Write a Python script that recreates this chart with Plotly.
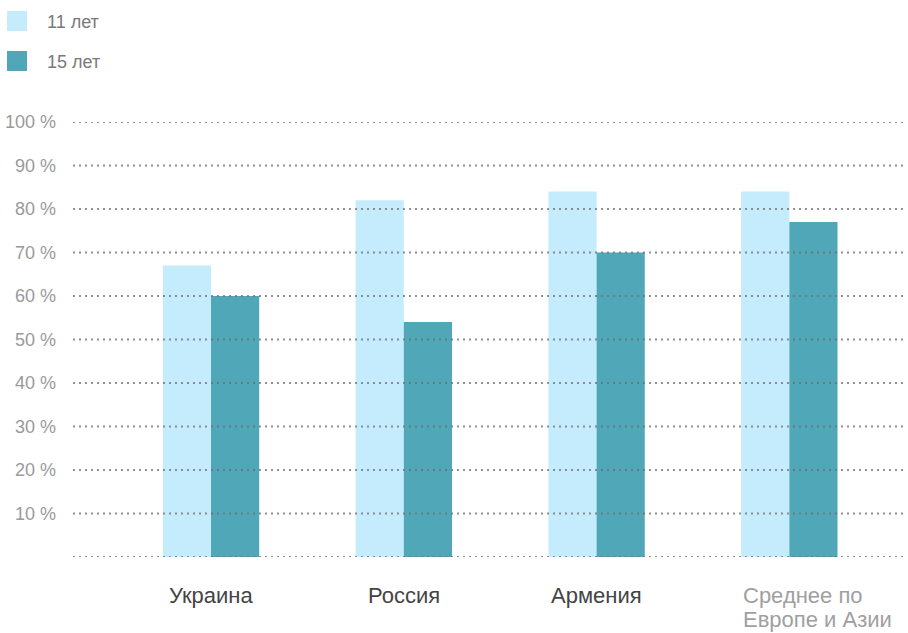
import plotly.graph_objects as go

categories = ["Украина", "Россия", "Армения", "Среднее по<br>Европе и Азии"]
series_names = ["11 лет", "15 лет"]
values_11 = [67, 82, 84, 84]
values_15 = [60, 54, 70, 77]
y_ticks = [10, 20, 30, 40, 50, 60, 70, 80, 90, 100]
y_ticktext = [f"{v} %" for v in y_ticks]
grid_values = [0] + y_ticks

colors = ["#c5ecfd", "#4fa7b7"]

W, H = 908, 633
ML, MR, MT, MB = 73, 3, 122, 76
PW, PH = W - ML - MR, H - MT - MB


def px_x(px):
    return (px - ML) / PW


def px_y(py):
    return 1 - (py - MT) / PH


fig = go.Figure()
for name, vals, col in zip(series_names, [values_11, values_15], colors):
    fig.add_trace(go.Bar(x=categories, y=vals, name=name, marker_color=col,
                         marker_line_width=0, showlegend=False, hoverinfo="skip"))

shapes = []
for v in grid_values:
    shapes.append(dict(type="line", xref="paper", yref="y", x0=0, x1=1, y0=v, y1=v,
                       layer="above", line=dict(color="rgba(110,110,110,0.75)", width=2, dash="2px,4px")))

# legend
annotations = []
for i, (name, col) in enumerate(zip(series_names, colors)):
    cy = 21 + 40 * i
    shapes.append(dict(type="rect", xref="paper", yref="paper",
                       x0=px_x(7), x1=px_x(27), y0=px_y(cy - 10), y1=px_y(cy + 10),
                       fillcolor=col, line=dict(width=0), layer="above"))
    annotations.append(dict(text=name, xref="paper", yref="paper", x=px_x(45), y=px_y(cy + 1),
                            xanchor="left", yanchor="middle", showarrow=False,
                            font=dict(size=18, color="#7a7a7a")))

# category labels
for i, cat in enumerate(categories):
    last = i == len(categories) - 1
    for j, line in enumerate(cat.split("<br>")):
        annotations.append(dict(text=line, xref="x", yref="paper", x=cat, y=0,
                                xanchor="left" if last else "center", yanchor="top",
                                xshift=-48 if last else 0, yshift=-24 - 24 * j,
                                align="left", showarrow=False,
                                font=dict(size=22, color="#a0a0a0" if last else "#444444")))

fig.update_layout(
    width=W, height=H,
    margin=dict(l=ML, r=MR, t=MT, b=MB, pad=0),
    paper_bgcolor="white", plot_bgcolor="white",
    barmode="group", bargap=0.5, bargroupgap=0,
    font=dict(family="Liberation Sans, Arial, sans-serif"),
    xaxis=dict(range=[-0.716, 3.60], showticklabels=False, showgrid=False,
               zeroline=False, showline=False, fixedrange=True),
    yaxis=dict(range=[0, 100], tickvals=y_ticks, ticktext=y_ticktext,
               showgrid=False, zeroline=False, showline=False,
               ticks="", ticklabelstandoff=16, fixedrange=True,
               tickfont=dict(size=18, color="#9a9a9a")),
    shapes=shapes,
    annotations=annotations,
)

fig.write_html("out.html", config={"displayModeBar": False},
               post_script="document.body.style.margin='0';document.body.style.overflow='hidden';")
